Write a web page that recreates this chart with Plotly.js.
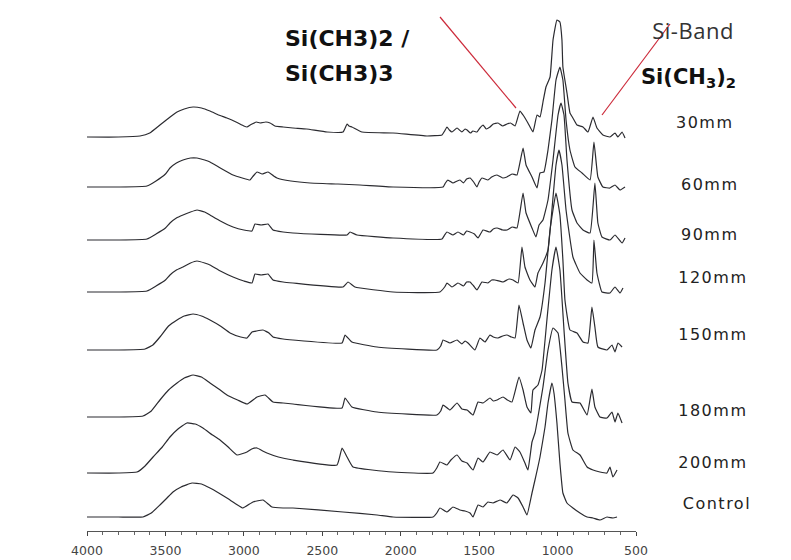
<!DOCTYPE html>
<html>
<head>
<meta charset="utf-8">
<script src="https://cdn.plot.ly/plotly-3.0.1.min.js"></script>
<style>
html,body{margin:0;padding:0;background:#fff;}
#chart{width:791px;height:560px;}
</style>
</head>
<body>
<div id="chart"></div>
<script>
// ---- Data (wavenumber in cm-1, relative absorbance in arbitrary units) ----
const seriesNames = ['30mm','60mm','90mm','120mm','150mm','180mm','200mm','Control'];
const offsets = [394, 344, 291, 239, 181, 114, 58, 14];

const wn_30 = [4000,3800,3662,3600,3535,3470,3426,3380,3324,3270,3216,3160,3108,3050,3000,2980,2960,2948,2920,2897,2860,2833,2802,2750,2687,2600,2470,2368,2342,2330,2311,2247,2049,1833,1737,1720,1705,1690,1673,1641,1610,1590,1577,1555,1540,1514,1495,1475,1455,1431,1410,1380,1350,1323,1300,1271,1240,1220,1189,1157,1131,1112,1093,1074,1048,1029,1004,985,972,966,940,921,902,876,838,806,774,749,711,666,634,615,589,570];
const ab_30 = [0,0,1,4,12,20,25,28,30,29,26,22,19,15,11,10,12,13,15,14,15,14,11,10,9,8,5,5,13,11,10,5,4,1,2,6,10,7,5,9,5,8,7,4,6,5,9,12,8,10,13,14,11,13,14,11,26,22,14,5,22,20,35,50,60,97,117,115,97,70,44,24,19,12,10,5,20,9,2,0,4,0,5,-1];

const wn_60 = [4000,3800,3618,3560,3500,3471,3430,3388,3340,3299,3250,3216,3150,3069,3010,2961,2940,2916,2884,2846,2810,2789,2700,2578,2400,2260,2049,1730,1715,1699,1667,1640,1622,1600,1580,1558,1535,1514,1500,1482,1444,1420,1386,1350,1323,1290,1259,1220,1201,1163,1131,1112,1087,1061,1036,1010,985,966,946,921,889,844,793,768,743,711,666,634,602,570];
const ab_60 = [0,0,1,6,13,19,24,27,29,29,27,25,19,12,9,7,11,15,13,15,11,9,6,4,3,2,0,0,4,7,4,6,7,4,8,9,5,0,5,9,7,10,12,9,10,13,12,39,22,10,-1,14,15,37,67,107,120,107,67,37,20,14,7,45,10,0,-1,2,-3,0];

const wn_90 = [4000,3800,3618,3560,3500,3471,3430,3388,3340,3299,3250,3216,3150,3069,3000,2948,2929,2890,2846,2814,2750,2687,2342,2323,2279,2049,1737,1720,1705,1667,1635,1600,1580,1558,1530,1507,1475,1431,1410,1386,1350,1323,1290,1259,1220,1201,1163,1138,1118,1093,1061,1029,997,978,959,940,908,876,838,793,762,743,717,666,634,589,570];
const ab_90 = [0,0,1,6,12,17,22,25,28,30,28,25,19,13,10,9,16,15,16,10,8,7,5,8,5,2,1,5,8,5,8,5,9,8,6,2,10,8,11,12,10,10,13,12,47,27,12,3,15,20,40,80,125,137,125,80,30,17,10,7,57,17,3,0,5,-3,2];

const wn_120 = [4000,3800,3618,3560,3500,3471,3430,3388,3340,3299,3250,3216,3150,3069,3000,2948,2929,2890,2846,2814,2750,2687,2368,2336,2292,2049,1750,1720,1705,1673,1635,1600,1580,1558,1535,1514,1482,1444,1420,1399,1348,1310,1284,1252,1227,1208,1176,1144,1125,1093,1061,1036,1010,991,972,946,902,857,812,781,768,749,717,666,634,602,583];
const ab_120 = [0,0,1,6,12,17,22,25,29,31,29,27,21,15,11,9,18,17,18,12,10,9,5,10,5,0,0,5,9,5,9,6,10,10,6,2,10,9,12,12,10,13,12,9,45,25,12,5,19,29,42,82,127,142,127,82,35,19,12,9,52,19,0,-1,5,-1,4];

const wn_150 = [4000,3800,3630,3580,3535,3480,3426,3380,3324,3270,3216,3150,3088,3020,2980,2948,2920,2878,2840,2814,2750,2687,2374,2355,2311,2151,1769,1745,1730,1686,1641,1610,1590,1571,1527,1495,1463,1431,1410,1380,1350,1323,1295,1271,1246,1220,1195,1170,1144,1112,1080,1048,1010,985,966,953,921,876,838,806,781,762,743,685,653,634,615,589];
const ab_150 = [0,0,1,5,13,24,30,34,36,34,30,24,17,13,12,18,19,20,17,13,11,10,7,15,8,3,0,4,10,7,10,6,9,7,0,12,8,15,13,12,14,15,13,12,45,27,10,2,20,33,67,120,157,135,90,50,20,17,8,7,43,23,3,0,5,-2,7,3];

const wn_180 = [4000,3800,3643,3590,3535,3480,3426,3380,3324,3270,3216,3160,3108,3040,2980,2916,2865,2814,2750,2687,2374,2355,2311,2151,1769,1745,1730,1686,1641,1610,1577,1539,1507,1475,1431,1410,1386,1348,1320,1291,1246,1220,1195,1170,1157,1125,1099,1068,1036,1010,985,959,934,908,857,812,781,762,730,685,653,634,615,589];
const ab_180 = [0,0,1,6,17,27,34,39,42,40,34,28,22,17,13,20,22,15,14,13,9,19,10,5,2,6,12,7,14,8,7,2,15,14,19,16,17,20,17,15,40,27,10,4,27,32,47,97,147,170,147,87,34,15,14,2,28,10,0,-1,5,-5,4,-6];

const wn_200 = [4000,3800,3681,3630,3579,3520,3471,3420,3363,3310,3261,3200,3152,3100,3044,2980,2950,2916,2880,2853,2780,2687,2406,2374,2342,2304,2049,1794,1770,1750,1705,1680,1641,1610,1577,1539,1507,1475,1431,1386,1348,1303,1271,1240,1208,1189,1163,1144,1125,1093,1061,1029,997,972,953,934,902,857,812,774,730,685,666,647,621];
const ab_200 = [0,0,1,7,16,26,36,44,50,49,45,38,33,26,18,21,24,25,22,20,16,13,8,25,16,6,1,0,5,11,8,13,18,12,10,3,15,11,21,18,23,13,26,21,10,3,31,40,56,86,123,145,140,106,73,40,23,18,6,3,1,0,6,-4,3];

const wn_ctl = [4000,3800,3643,3590,3535,3490,3452,3400,3331,3270,3216,3160,3108,3050,3006,2942,2878,2821,2750,2687,2368,2151,2049,1794,1770,1750,1705,1667,1622,1590,1558,1539,1507,1475,1444,1412,1367,1323,1284,1252,1220,1195,1163,1144,1112,1080,1061,1036,1023,1004,985,966,940,902,857,812,774,730,685,647,621];
const ab_ctl = [0,0,0,4,12,19,25,30,34,33,29,24,19,13,9,15,17,10,9,9,5,2,0,0,4,9,5,10,7,6,4,0,12,10,15,14,17,14,22,19,10,2,24,37,60,90,114,134,124,94,54,24,14,9,4,0,-1,-3,0,-1,0];

const wavenumbers = [wn_30, wn_60, wn_90, wn_120, wn_150, wn_180, wn_200, wn_ctl];
const absorbances = [ab_30, ab_60, ab_90, ab_120, ab_150, ab_180, ab_200, ab_ctl];

const tickVals = [4000, 3500, 3000, 2500, 2000, 1500, 1000, 500];
const tickText = ['4000', '3500', '3000', '2500', '2000', '1500', '1000', '500'];
const minorTickVals = [3900,3800,3700,3600,3400,3300,3200,3100,2900,2800,2700,2600,2400,2300,2200,2100,
                       1900,1800,1700,1600,1400,1300,1200,1100,900,800,700,600];

// ---- Layout helpers (pixel -> paper coordinates of the plot area) ----
const W = 791, H = 560, ML = 87, MR = 155, MT = 0, MB = 29;
const PW = W - ML - MR, PH = H - MT - MB;
const px = x => (x - ML) / PW;
const py = y => (PH + MT - y) / PH;

const traces = seriesNames.map((name, i) => ({
  type: 'scatter', mode: 'lines', name: name,
  x: wavenumbers[i],
  y: absorbances[i].map(v => v + offsets[i]),
  line: {color: '#2b2b30', width: 1.2, shape: 'spline', smoothing: 0.35},
  hoverinfo: 'skip', showlegend: false
}));

const labelPos = [[705,123],[710,185],[710,234],[713,277],[713,335],[713,410],[713,462],[717,503]];
const annotations = seriesNames.map((name, i) => ({
  xref: 'paper', yref: 'paper', x: px(labelPos[i][0]), y: py(labelPos[i][1]),
  xanchor: 'center', yanchor: 'middle', showarrow: false, text: name,
  font: {family: 'DejaVu Sans', size: 16, color: '#222'}
}));
annotations.push(
  {xref:'paper', yref:'paper', x: px(283), y: py(39), xanchor:'left', yanchor:'middle', showarrow:false,
   text:'<b>Si(CH3)2 /</b>', font:{family:'DejaVu Sans', size:22, color:'#111'}},
  {xref:'paper', yref:'paper', x: px(283), y: py(73), xanchor:'left', yanchor:'middle', showarrow:false,
   text:'<b>Si(CH3)3</b>', font:{family:'DejaVu Sans', size:22, color:'#111'}},
  {xref:'paper', yref:'paper', x: px(652), y: py(30), xanchor:'left', yanchor:'middle', showarrow:false,
   text:'Si-Band', font:{family:'Open Sans', size:22, color:'#333'}},
  {xref:'paper', yref:'paper', x: px(639), y: py(78), xanchor:'left', yanchor:'middle', showarrow:false,
   text:'<b>Si(CH<sub>3</sub>)<sub>2</sub></b>', font:{family:'DejaVu Sans', size:21, color:'#111'}}
);

const shapes = [
  {type:'line', xref:'paper', yref:'paper', x0:px(440), y0:py(17), x1:px(516), y1:py(108),
   line:{color:'#cc2a3a', width:1.2}},
  {type:'line', xref:'paper', yref:'paper', x0:px(602), y0:py(115), x1:px(670), y1:py(24),
   line:{color:'#cc2a3a', width:1.2}}
];

const axisCommon = {
  range: [4000, 500], showgrid: false, zeroline: false,
  tickmode: 'array', tickvals: tickVals, ticktext: tickText
};

const layout = {
  width: W, height: H,
  margin: {l: ML, r: MR, t: MT, b: MB, pad: 0},
  paper_bgcolor: '#ffffff', plot_bgcolor: '#ffffff',
  xaxis: Object.assign({}, axisCommon, {
    showline: true, linecolor: '#555', linewidth: 1,
    ticks: 'outside', ticklen: 4, tickcolor: '#444', tickwidth: 1,
    minor: {tickmode: 'array', tickvals: minorTickVals, ticks: 'outside', ticklen: 3, tickcolor: '#666', tickwidth: 1, showgrid: false},
    tickfont: {family: 'DejaVu Sans', size: 12.5, color: '#444'},
    ticklabelstandoff: 4
  }),
  xaxis2: Object.assign({}, axisCommon, {
    overlaying: 'x', anchor: 'y', side: 'bottom', matches: 'x',
    showline: false, showticklabels: false,
    ticks: 'inside', ticklen: 4, tickcolor: '#444', tickwidth: 1,
    minor: {tickmode: 'array', tickvals: minorTickVals, ticks: 'inside', ticklen: 2, tickcolor: '#666', tickwidth: 1, showgrid: false}
  }),
  yaxis: {range: [0, PH], visible: false, fixedrange: true},
  annotations: annotations,
  shapes: shapes
};

Plotly.newPlot('chart', traces, layout, {staticPlot: true, displayModeBar: false}).then(() => {
  document.querySelectorAll('g.annotation').forEach(g => {
    const idx = +g.getAttribute('data-index');
    const t = g.querySelector('text');
    if (!t) return;
    if (idx < 8) t.style.letterSpacing = '1.5px';
    else if (idx === 10) t.style.letterSpacing = '0.5px';
  });
});
</script>
</body>
</html>
